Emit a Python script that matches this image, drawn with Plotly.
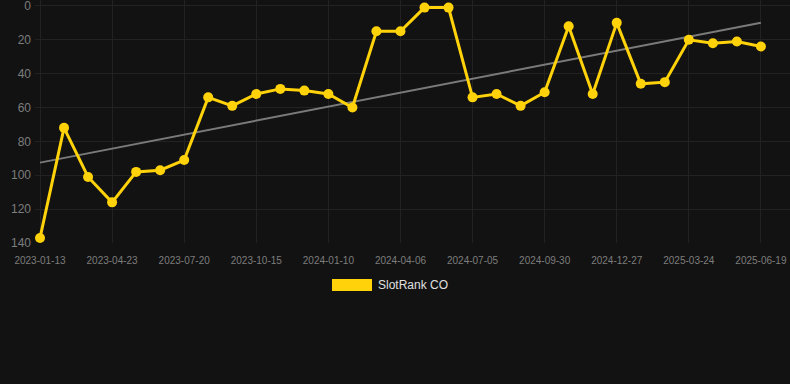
import numpy as np
import plotly.graph_objects as go

dates = [
    "2023-01-13", "2023-02-15", "2023-03-20", "2023-04-23", "2023-05-22", "2023-06-21",
    "2023-07-20", "2023-08-18", "2023-09-16", "2023-10-15", "2023-11-13", "2023-12-12",
    "2024-01-10", "2024-02-08", "2024-03-08", "2024-04-06", "2024-05-06", "2024-06-05",
    "2024-07-05", "2024-08-03", "2024-09-01", "2024-09-30", "2024-10-29", "2024-11-28",
    "2024-12-27", "2025-01-25", "2025-02-23", "2025-03-24", "2025-04-22", "2025-05-21",
    "2025-06-19",
]
rank = [137, 72, 101, 116, 98, 97, 91, 54, 59, 52, 49, 50, 52, 60, 15, 15, 1, 1,
        54, 52, 59, 51, 12, 52, 10, 46, 45, 20, 22, 21, 24]
tick_labels = dates[::3]
series_name = "SlotRank CO"

idx = np.arange(len(rank))
slope, intercept = np.polyfit(idx, rank, 1)
trend = [intercept + slope * i for i in idx]

W, H = 790, 384
ml, mr, mt, mb = 35, 0, 0, 141
pw, ph = W - ml - mr, H - mt - mb


def px_x(x):
    return (x - ml) / pw


def px_y(y):
    return (H - mb - y) / ph


fig = go.Figure()
fig.add_trace(go.Scatter(
    x=dates, y=trend, mode="lines",
    line=dict(color="#7a7a7a", width=2),
    showlegend=False, hoverinfo="skip",
))
fig.add_trace(go.Scatter(
    x=dates, y=rank, mode="lines+markers", name=series_name,
    line=dict(color="#FFD20A", width=3),
    marker=dict(color="#FFD20A", size=10),
    showlegend=False, cliponaxis=False,
))

fig.add_shape(type="rect", xref="paper", yref="paper",
              x0=px_x(332), x1=px_x(372), y0=px_y(291), y1=px_y(279),
              fillcolor="#FFD20A", line=dict(width=0))
fig.add_annotation(xref="paper", yref="paper", x=px_x(376), y=px_y(285),
                   xanchor="left", yanchor="middle", showarrow=False,
                   text=series_name, font=dict(size=12, color="#e0e0e0"))

fig.update_layout(
    width=W, height=H,
    margin=dict(l=ml, r=mr, t=mt, b=mb),
    paper_bgcolor="#121212", plot_bgcolor="#121212",
    font=dict(family="Liberation Sans, Arial, sans-serif"),
    xaxis=dict(
        type="category", range=[-0.208, 31.21],
        tickmode="array", tickvals=tick_labels, ticktext=tick_labels,
        showgrid=True, gridcolor="#222222", gridwidth=1,
        zeroline=False, showline=False, ticks="",
        tickfont=dict(size=10, color="#7d7d7d"),
        ticklabelstandoff=10,
    ),
    yaxis=dict(
        range=[140, -3.5], tickvals=[0, 20, 40, 60, 80, 100, 120, 140],
        showgrid=True, gridcolor="#222222", gridwidth=1,
        zeroline=False, showline=False, ticks="",
        tickfont=dict(size=12, color="#7d7d7d"),
        ticklabelstandoff=3, ticklabeloverflow="allow",
    ),
)

fig.write_html("out.html")
